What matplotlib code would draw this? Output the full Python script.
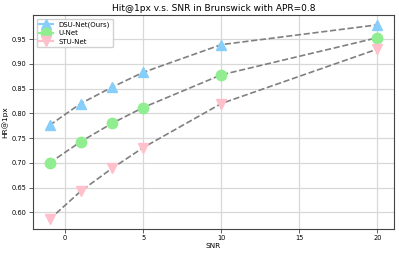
import matplotlib
matplotlib.use("Agg")
import matplotlib.pyplot as plt
import numpy as np
from matplotlib.lines import Line2D

#------------------------------------------------------------
# data
snr = [-1, 1, 3, 5, 10, 20]
dsu_net = [0.776, 0.820, 0.853, 0.883, 0.939, 0.979]
u_net = [0.700, 0.743, 0.780, 0.812, 0.878, 0.953]
stu_net = [0.586, 0.643, 0.689, 0.731, 0.820, 0.930]

labels = ["DSU-Net(Ours)", "U-Net", "STU-Net"]
colors = ["#87CEFA", "#90EE90", "#FFC0CB"]
markers = ["^", "o", "v"]

#------------------------------------------------------------
# plot
fig = plt.figure(figsize=(3.99, 2.56), dpi=100)
ax = fig.add_axes([0.083, 0.105, 0.904, 0.836])

handles = []
for vals, lab, col, mk in zip([dsu_net, u_net, stu_net], labels, colors, markers):
    # 灰色の破線 + 色付きマーカー
    ax.plot(snr, vals, linestyle="--", color="gray", lw=1.2, zorder=2)
    ax.plot(snr, vals, linestyle="none", marker=mk, color=col, markersize=7.5, zorder=3)
    handles.append(Line2D([0], [0], color=col, marker=mk, markersize=7.5, lw=1.5, label=lab))

ax.set_xticks([0, 5, 10, 15, 20])
yt = np.arange(0.60, 0.951, 0.05)
ax.set_yticks(yt)
ax.set_yticklabels([f"{v:.2f}" for v in yt])
ax.tick_params(labelsize=4.8, length=3, width=0.6, pad=1.5, color="#444444")
ax.grid(True, color="#d8d8d8", lw=0.9)
ax.set_axisbelow(True)
for s in ax.spines.values():
    s.set_color("#444444")
    s.set_linewidth(0.8)

ax.set_title("Hit@1px v.s. SNR in Brunswick with APR=0.8", fontsize=6.5, pad=3)
ax.set_xlabel("SNR", fontsize=5.3, labelpad=1.5)
ax.set_ylabel("HR@1px", fontsize=5.3, labelpad=3)

# 凡例
ax.legend(handles=handles, loc="upper left", fontsize=5, handlelength=2.0,
          borderpad=0.4, labelspacing=0.35, framealpha=0.9)

fig.savefig("out.png", dpi=100)
